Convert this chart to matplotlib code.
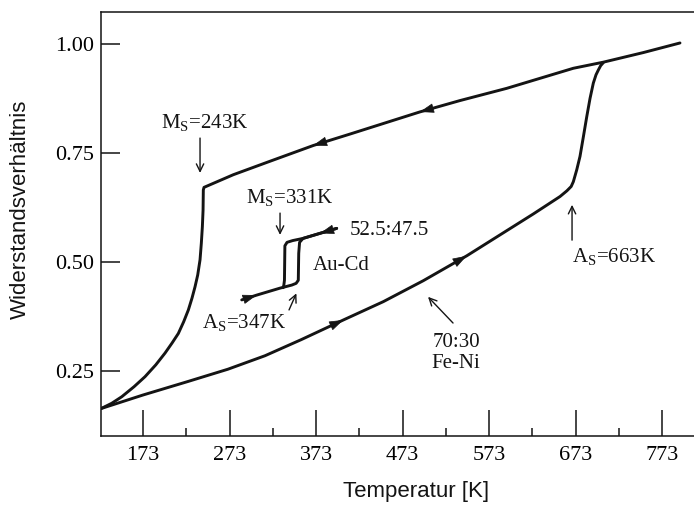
import matplotlib
matplotlib.use("Agg")
import matplotlib.pyplot as plt
import numpy as np

# Fe-Ni 70:30, cooling branch (from the top right down to the start)
fe_ni_cool_t = [793.8, 751.4, 705.2, 670.5, 593.5, 539.5, 493.2, 412.0, 369.9, 320.0, 277.4, 243.5,
                242.7, 242.4, 241.6, 240.4, 238.9, 236.2, 233.1, 229.6, 225.4, 220.0, 213.8, 206.5,
                198.4, 187.7, 175.3, 162.6, 148.4, 136.8, 124.6]
fe_ni_cool_r = [1.002, 0.980, 0.958, 0.944, 0.898, 0.870, 0.844, 0.793, 0.767, 0.731, 0.700, 0.671,
                0.665, 0.619, 0.581, 0.543, 0.505, 0.470, 0.443, 0.417, 0.390, 0.363, 0.336, 0.314,
                0.291, 0.264, 0.237, 0.214, 0.191, 0.176, 0.164]

# Fe-Ni 70:30, heating branch
fe_ni_heat_t = [124.6, 173.0, 225.0, 271.0, 314.0, 356.0, 404.6, 450.8, 497.0, 547.2, 585.7, 624.2,
                655.1, 663.0, 668.0, 670.5, 674.4, 678.2, 682.1, 686.0, 689.8, 693.6, 696.7, 699.4,
                702.1, 705.2]
fe_ni_heat_r = [0.164, 0.195, 0.226, 0.254, 0.285, 0.322, 0.367, 0.409, 0.457, 0.514, 0.562, 0.610,
                0.650, 0.663, 0.673, 0.684, 0.711, 0.742, 0.787, 0.833, 0.875, 0.910, 0.929, 0.940,
                0.950, 0.957]

# Au-Cd 52.5:47.5
au_cd_heat_t = [287.1, 304.4, 331.4, 345.0, 350.0, 352.5, 353.0, 354.0, 358.0, 396.9]
au_cd_heat_r = [0.413, 0.424, 0.440, 0.447, 0.451, 0.458, 0.520, 0.545, 0.554, 0.577]
au_cd_cool_t = [396.9, 358.0, 346.0, 339.5, 337.0, 336.5, 335.8, 335.0]
au_cd_cool_r = [0.577, 0.554, 0.549, 0.545, 0.537, 0.458, 0.447, 0.441]

x_major = [173, 273, 373, 473, 573, 673, 773]
x_minor = [223, 323, 423, 523, 623, 723]
y_major = [0.25, 0.50, 0.75, 1.00]

plt.rcParams['font.family'] = ['Liberation Serif', 'DejaVu Serif']
plt.rcParams['mathtext.fontset'] = 'custom'
plt.rcParams['mathtext.rm'] = 'Liberation Serif'

INK = '#141414'


def curve_arrow(ax, t, r, at, step):
	# small filled arrowhead sitting on the curve, pointing along +step
	order = np.argsort(t)
	ts = np.array(t)[order]
	rs = np.array(r)[order]
	y0 = np.interp(at - step, ts, rs)
	y1 = np.interp(at, ts, rs)
	ax.annotate('', xy=(at, y1), xytext=(at - step, y0),
		arrowprops=dict(arrowstyle='-|>,head_length=0.65,head_width=0.22', mutation_scale=14,
						color=INK, lw=0.5, shrinkA=0, shrinkB=0))


def pointer(ax, start, end):
	ax.annotate('', xy=end, xytext=start,
		arrowprops=dict(arrowstyle='->,head_length=0.45,head_width=0.22', mutation_scale=12,
						color=INK, lw=1.0, shrinkA=0, shrinkB=0))


fig = plt.figure(figsize=(6.94, 5.09), dpi=100)
ax = fig.add_axes([101 / 694, 73 / 509, 593 / 694, 424 / 509])

line_kw = dict(color=INK, lw=2.1, solid_capstyle='round', solid_joinstyle='round')
ax.plot(fe_ni_cool_t, fe_ni_cool_r, **line_kw)
ax.plot(fe_ni_heat_t, fe_ni_heat_r, **line_kw)
ax.plot(au_cd_heat_t, au_cd_heat_r, **line_kw)
ax.plot(au_cd_cool_t, au_cd_cool_r, **line_kw)

# direction arrows on the loops
curve_arrow(ax, fe_ni_cool_t, fe_ni_cool_r, 369.5, -8)
curve_arrow(ax, fe_ni_cool_t, fe_ni_cool_r, 493.0, -8)
curve_arrow(ax, fe_ni_heat_t, fe_ni_heat_r, 404.6, 8)
curve_arrow(ax, fe_ni_heat_t, fe_ni_heat_r, 547.2, 8)
curve_arrow(ax, au_cd_heat_t, au_cd_heat_r, 304.4, 6)
curve_arrow(ax, au_cd_cool_t, au_cd_cool_r, 377.6, -6)

txt = dict(fontsize=15, color=INK)
ax.text(244.7, 0.819, r'M$_\mathrm{S}$=243K', ha='center', va='center', **txt)
pointer(ax, (238.9, 0.784), (238.9, 0.704))
ax.text(342.9, 0.647, r'M$_\mathrm{S}$=331K', ha='center', va='center', **txt)
pointer(ax, (331.4, 0.612), (331.4, 0.562))
ax.text(412.3, 0.571, '52.5:47.5', ha='left', va='center', **txt)
ax.text(369.5, 0.491, 'Au-Cd', ha='left', va='center', **txt)
ax.text(289.8, 0.360, r'A$_\mathrm{S}$=347K', ha='center', va='center', **txt)
pointer(ax, (341.8, 0.390), (350.3, 0.428))
ax.text(717.5, 0.511, r'A$_\mathrm{S}$=663K', ha='center', va='center', **txt)
pointer(ax, (669.0, 0.550), (669.0, 0.631))
ax.text(534.8, 0.291, '70:30\nFe-Ni', ha='center', va='center', linespacing=1.15, **txt)
pointer(ax, (531.4, 0.360), (502.5, 0.420))

ax.set_xlim(124.4, 810)
ax.set_ylim(0.101, 1.073)
ax.set_xticks(x_major)
ax.set_xticks(x_minor, minor=True)
ax.set_yticks(y_major)
ax.set_yticklabels(['%.2f' % v for v in y_major])

ax.tick_params(axis='x', which='major', direction='in', length=19, width=1.1, labelsize=16, pad=7, color=INK)
ax.tick_params(axis='x', which='minor', direction='in', length=6, width=1.1, color=INK)
ax.tick_params(axis='y', which='major', direction='in', length=14, width=1.1, labelsize=16, pad=5, color=INK)

for side in ['left', 'bottom', 'top']:
	ax.spines[side].set_linewidth(1.1)
	ax.spines[side].set_color(INK)
ax.spines['right'].set_visible(False)

ax.set_xlabel('Temperatur [K]', family='Liberation Sans', fontsize=16, color=INK)
ax.xaxis.set_label_coords(0.531, -0.107)
ax.set_ylabel('Widerstandsverhältnis', family='Liberation Sans', fontsize=16, color=INK)
ax.yaxis.set_label_coords(-0.118, 0.534)

fig.savefig('out.png', dpi=100)
